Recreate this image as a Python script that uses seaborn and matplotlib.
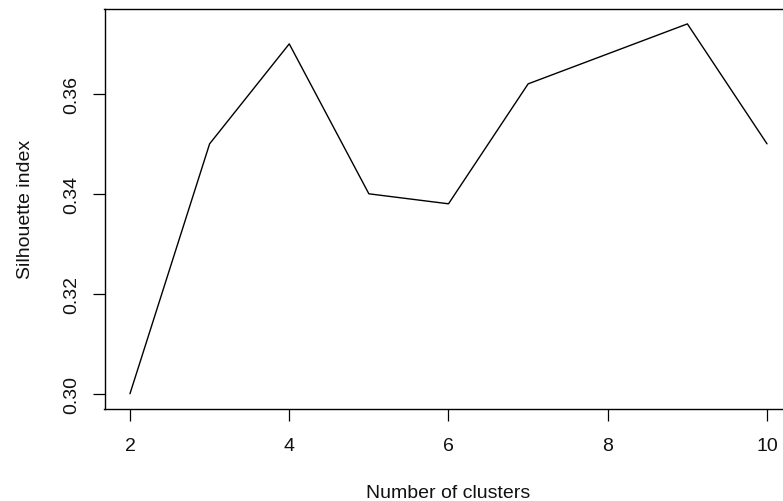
import matplotlib
matplotlib.use("Agg")
import matplotlib.pyplot as plt
import seaborn as sns
import pandas as pd

# Average silhouette width for each candidate number of clusters
clusters = [2, 3, 4, 5, 6, 7, 8, 9, 10]
silhouette = [0.300, 0.350, 0.370, 0.340, 0.338, 0.362, 0.368, 0.374, 0.350]

x_ticks = [2, 4, 6, 8, 10]
y_ticks = [0.30, 0.32, 0.34, 0.36]
y_tick_labels = ["0.30", "0.32", "0.34", "0.36"]

sns.set_style("ticks")
plt.rcParams["font.family"] = ["Liberation Sans", "DejaVu Sans"]

df = pd.DataFrame({"k": clusters, "sil": silhouette})

W, H = 783, 502
fig = plt.figure(figsize=(W / 100, H / 100), dpi=100)
left, right, top, bottom = 104.5, 792.5, 10.1, 409.5
ax = fig.add_axes([left / W, (H - bottom) / H, (right - left) / W, (bottom - top) / H])

sns.lineplot(data=df, x="k", y="sil", ax=ax, color="black", linewidth=1.0,
             estimator=None, sort=False)

# R-style 4% padding around the data range
xr = max(clusters) - min(clusters)
yr = max(silhouette) - min(silhouette)
ax.set_xlim(min(clusters) - 0.04 * xr, max(clusters) + 0.04 * xr)
ax.set_ylim(min(silhouette) - 0.04 * yr, max(silhouette) + 0.04 * yr)

ax.set_xticks(x_ticks)
ax.set_xticklabels([str(t) for t in x_ticks])
ax.set_yticks(y_ticks)
ax.set_yticklabels(y_tick_labels, rotation=90, va="center")

for s in ax.spines.values():
    s.set_color("black")
    s.set_linewidth(1.0)
    s.set_visible(True)

ax.tick_params(axis="both", which="major", direction="out", length=8.6, width=0.9,
               color="black", labelsize=14, labelcolor="#111111",
               bottom=True, left=True, top=False, right=False)
ax.tick_params(axis="x", pad=12)
ax.tick_params(axis="y", pad=9)
ax.grid(False)

ax.set_xlabel("Number of clusters", fontsize=14, color="#111111", labelpad=21.5)
ax.set_ylabel("Silhouette index", fontsize=14, color="#111111", labelpad=21)

fig.savefig("out.png", dpi=100, facecolor="white")
